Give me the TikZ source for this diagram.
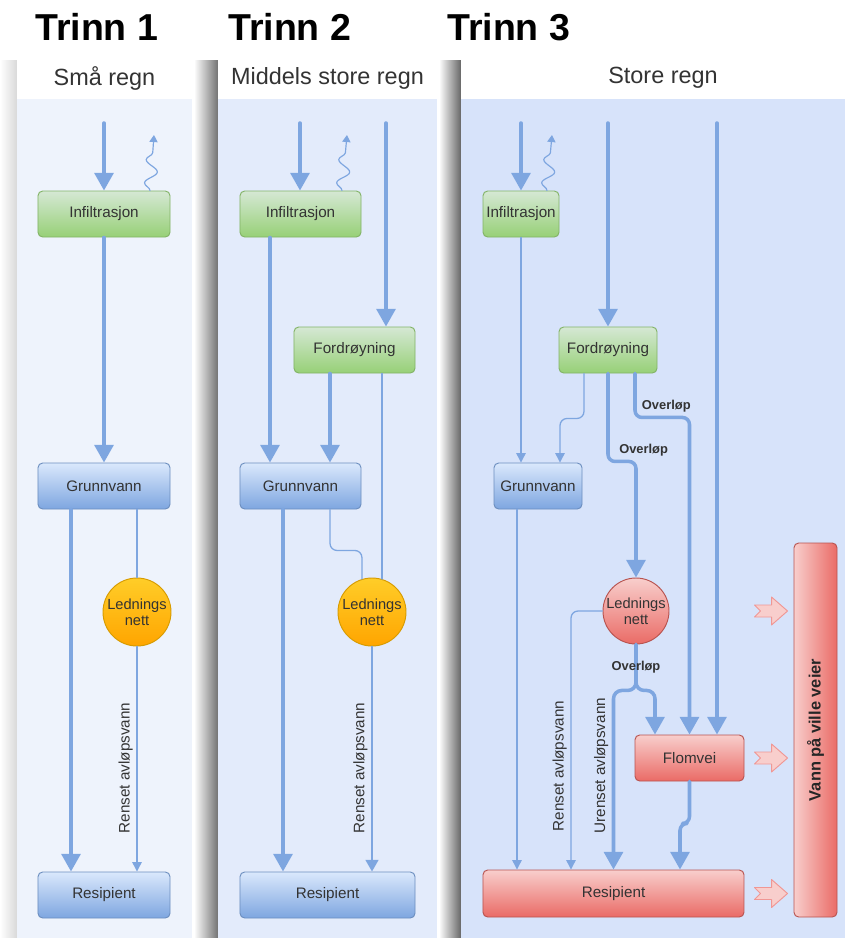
\documentclass[tikz,border=0pt]{standalone}
\usepackage{fontspec}
\setmainfont{Liberation Sans}
\usetikzlibrary{arrows.meta,positioning,calc,decorations.pathmorphing}
\definecolor{flow}{HTML}{7EA6E0}
\definecolor{txt}{HTML}{333333}
\definecolor{gtop}{HTML}{D5E8D4}
\definecolor{gbot}{HTML}{97D077}
\definecolor{gline}{HTML}{82B366}
\definecolor{btop}{HTML}{DAE8FC}
\definecolor{bbot}{HTML}{7EA6E0}
\definecolor{bline}{HTML}{6C8EBF}
\definecolor{otop}{HTML}{FFCD28}
\definecolor{obot}{HTML}{FFA500}
\definecolor{oline}{HTML}{D79B00}
\definecolor{rtop}{HTML}{F8CECC}
\definecolor{rbot}{HTML}{EA6B66}
\definecolor{rline}{HTML}{B85450}
\definecolor{panA}{HTML}{EEF3FC}
\definecolor{panB}{HTML}{E3EBFB}
\definecolor{panC}{HTML}{D7E3FA}
\begin{document}
\begin{tikzpicture}[x=0.03cm,y=-0.03cm,line join=round,line cap=round,font=\fontsize{13}{15}\selectfont,
	box/.style={draw,rounded corners=4pt,line width=0.8pt,text=txt,minimum height=1.38cm,inner sep=0pt},
	greenbox/.style={box,top color=gtop,bottom color=gbot,draw=gline},
	bluebox/.style={box,top color=btop,bottom color=bbot,draw=bline},
	redbox/.style={box,top color=rtop,bottom color=rbot,draw=rline},
	pipenet/.style={circle,draw=oline,line width=0.8pt,minimum size=2.04cm,inner sep=0pt,align=center,
		top color=otop,bottom color=obot,text=txt,font=\fontsize{12.5}{14}\selectfont},
	thickflow/.style={draw=flow,line width=3pt,-{Triangle[width=16pt,length=15pt]}},
	midflow/.style={draw=flow,line width=1.6pt,-{Triangle[width=11pt,length=10pt]}},
	thinflow/.style={draw=flow,line width=1.1pt,-{Triangle[width=8pt,length=8pt]}},
	thinline/.style={draw=flow,line width=1.1pt},
	vapour/.style={draw=flow,line width=1pt,-{Triangle[width=7pt,length=6pt]},
		decorate,decoration={snake,amplitude=1.8mm,segment length=7mm,post length=2mm}},
	note/.style={text=txt,rotate=90,anchor=south,inner sep=3pt},
	overnote/.style={text=txt,font=\bfseries\fontsize{11}{13}\selectfont,inner sep=1pt},
	heading/.style={text=txt,font=\fontsize{20}{24}\selectfont},
	stage/.style={anchor=west,inner sep=0pt,font=\bfseries\fontsize{32}{36}\selectfont},
	pics/spill/.style={code={\draw[draw=rbot!70,fill=rtop,line width=0.8pt]
		(-33,-6) -- (-16,-6) -- (-16,-14) -- (0,0) -- (-16,14) -- (-16,6) -- (-33,6) -- (-27,0) -- cycle;}}]
	\useasboundingbox (0,0) rectangle (845,938);
	% panels
	\shade[left color=white,right color=black!15] (0,60) rectangle (17,938);
	\shade[left color=white,right color=black!55] (194,60) rectangle (218,938);
	\shade[left color=white,right color=black!60] (439,60) rectangle (461,938);
	\fill[panA] (17,99) rectangle (192,938);
	\fill[panB] (218,99) rectangle (437,938);
	\fill[panC] (461,99) rectangle (845,938);
	\fill[white] (17,54) rectangle (192,99);
	\fill[white] (218,54) rectangle (437,99);
	\fill[white] (461,54) rectangle (845,99);
	\node[stage] (trinn1) at (35,27) {Trinn 1};
	\node[stage] (trinn2) at (228,27) {Trinn 2};
	\node[stage] (trinn3) at (447,27) {Trinn 3};
	\node[heading] (head1) at (104.5,78) {Små regn};
	\node[heading] (head2) at (327.5,78) {Middels store regn};
	\node[heading] (head3) at (663,78) {Store regn};

	% Trinn 1
	\node[greenbox,minimum width=3.96cm] (inf1) at (104,214) {Infiltrasjon};
	\node[bluebox,minimum width=3.96cm] (gv1) at (104,486) {Grunnvann};
	\node[pipenet] (led1) at (137,612) {Lednings\\nett};
	\node[bluebox,minimum width=3.96cm] (res1) at (104,895) {Resipient};
	\coordinate (rain1) at (104,123);
	\coordinate (evap1) at (154,135);
	\draw[thickflow] (rain1) -- (rain1 |- inf1.north);
	\draw[vapour] ($(inf1.north)+(46,0)$) -- (evap1);
	\draw[thickflow] (inf1) -- (gv1);
	\coordinate (p) at ($(gv1.south)+(-33,0)$);
	\draw[thickflow] (p) -- (p |- res1.north);
	\draw[thinline] (led1.north |- gv1.south) -- (led1);
	\draw[thinflow] (led1) -- (led1 |- res1.north) node[note,pos=0.54] {Renset avløpsvann};

	% Trinn 2
	\node[greenbox,minimum width=3.63cm] (inf2) at (300.5,214) {Infiltrasjon};
	\node[greenbox,minimum width=3.63cm] (ford2) at (354.5,350) {Fordrøyning};
	\node[bluebox,minimum width=3.63cm] (gv2) at (300.5,486) {Grunnvann};
	\node[pipenet] (led2) at (372,612) {Lednings\\nett};
	\node[bluebox,minimum width=5.25cm] (res2) at (327.5,895) {Resipient};
	\coordinate (rain2a) at (300,123);
	\coordinate (rain2b) at (386,123);
	\coordinate (evap2) at (347,135);
	\draw[thickflow] (rain2a) -- (rain2a |- inf2.north);
	\draw[vapour] ($(inf2.north)+(41.5,0)$) -- (evap2);
	\draw[thickflow] (rain2b) -- (rain2b |- ford2.north);
	\coordinate (p) at ($(inf2.south)+(-30.5,0)$);
	\draw[thickflow] (p) -- (p |- gv2.north);
	\coordinate (p) at ($(ford2.south)+(-24.5,0)$);
	\draw[thickflow] (p) -- (p |- gv2.north);
	\draw[thinline] (led2.73 |- ford2.south) -- (led2.73);
	\draw[thinline,rounded corners=6pt] ($(gv2.south)+(29.5,0)$) -- ++(0,41) -| (led2.107);
	\coordinate (p) at ($(gv2.south)+(-17.5,0)$);
	\draw[thickflow] (p) -- (p |- res2.north);
	\draw[midflow] (led2) -- (led2 |- res2.north) node[note,pos=0.54] {Renset avløpsvann};

	% Trinn 3
	\node[greenbox,minimum width=2.28cm] (inf3) at (521,214) {Infiltrasjon};
	\node[greenbox,minimum width=2.94cm] (ford3) at (608,350) {Fordrøyning};
	\node[bluebox,minimum width=2.64cm] (gv3) at (538,486) {Grunnvann};
	\node[pipenet,minimum size=1.98cm,top color=rtop,bottom color=rbot,draw=rline] (led3) at (636,611) {Lednings\\nett};
	\node[redbox,minimum width=3.27cm] (flom3) at (689.5,758) {Flomvei};
	\node[redbox,minimum width=7.83cm,minimum height=1.41cm] (res3) at (613.5,893.5) {Resipient};
	\node[redbox,left color=rtop,right color=rbot,rotate=90,minimum width=11.22cm,minimum height=1.29cm,
		font=\bfseries\fontsize{14}{16}\selectfont,text=black!85] (vann3) at (815.5,730) {Vann på ville veier};
	\coordinate (rain3a) at (521,123);
	\coordinate (rain3b) at (608,123);
	\coordinate (rain3c) at (717,123);
	\coordinate (evap3) at (552,135);
	\draw[thickflow] (rain3a) -- (rain3a |- inf3.north);
	\draw[vapour] ($(inf3.north)+(26,0)$) -- (evap3);
	\draw[thickflow] (rain3b) -- (rain3b |- ford3.north);
	\draw[thickflow] (rain3c) -- (rain3c |- flom3.north);
	\draw[thinflow] (inf3) -- (inf3 |- gv3.north);
	\draw[thinflow,rounded corners=6pt] ($(ford3.south)+(-24,0)$) -- ++(0,45) -| ($(gv3.north)+(22,0)$);
	\draw[thickflow,rounded corners=6pt] (ford3.south) -- ++(0,88)
		node[overnote,anchor=south west,xshift=0.25cm,yshift=2pt] {Overløp} -| (led3.north);
	\draw[thickflow,rounded corners=6pt] ($(ford3.south)+(27,0)$) -- ++(0,44)
		node[overnote,anchor=south west,xshift=0.12cm,yshift=2pt] {Overløp} -| (flom3.north);
	\draw[thinflow,rounded corners=6pt] (led3.west) -| ($(res3.north)+(-42.5,0)$)
		node[note,pos=0.8] {Renset avløpsvann};
	\coordinate (p) at ($(gv3.south)+(-21,0)$);
	\draw[thinflow] (p) -- (p |- res3.north);
	\coordinate (split) at ($(led3.south)+(0,46)$);
	\draw[thickflow,rounded corners=7pt] (led3.south) -- (split) -| (res3.north)
		node[note,pos=0.71] {Urenset avløpsvann};
	\draw[thickflow,rounded corners=7pt] (led3.south) -- (split) -| ($(flom3.north)+(-34.5,0)$);
	\node[overnote] (over3) at ($(led3.south)!0.5!(split)$) {Overløp};
	\draw[thickflow,rounded corners=6pt] (flom3.south) -- ++(0,42) -| ($(res3.north)+(66.5,0)$);
	\pic at ($(led3 -| vann3.north)+(-6,0)$) {spill};
	\pic at ($(flom3 -| vann3.north)+(-6,0)$) {spill};
	\pic at ($(res3 -| vann3.north)+(-6,0)$) {spill};
\end{tikzpicture}
\end{document}
